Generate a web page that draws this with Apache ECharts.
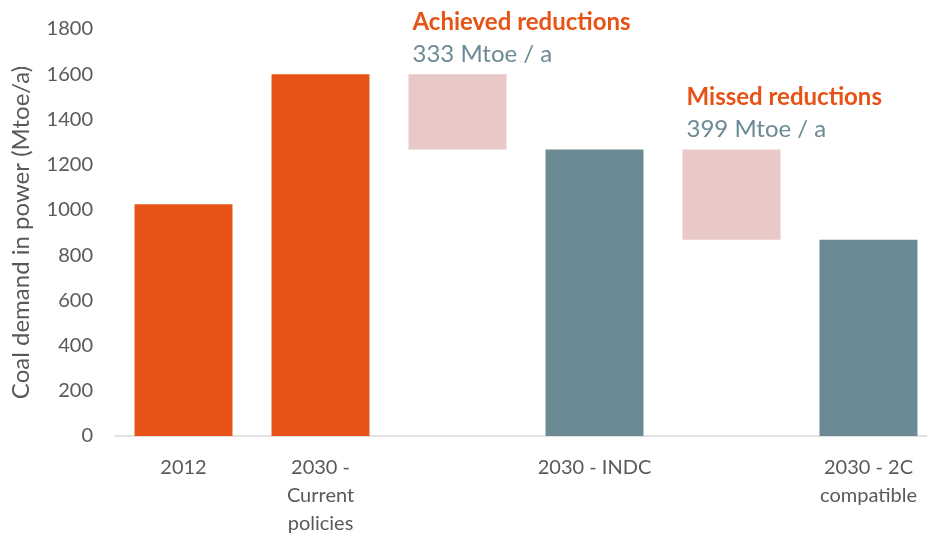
<!DOCTYPE html>
<html>
<head>
<meta charset="utf-8">
<script src="https://cdn.jsdelivr.net/npm/echarts@6/dist/echarts.min.js"></script>
<style>
  html, body { margin: 0; padding: 0; background: #fff; }
  #chart { width: 927px; height: 537px; }
</style>
</head>
<body>
<div id="chart"></div>
<script>
const categories = ['2012', '2030 -\nCurrent\npolicies', '', '2030 - INDC', '', '2030 - 2C\ncompatible']
const totals = [1025, 1600, '-', 1267, '-', 868]
const floatBase = ['-', '-', 1267, '-', 868, '-']
const reductions = ['-', '-', 333, '-', 399, '-']
const reductionTitles = ['', '', 'Achieved reductions', '', 'Missed reductions', '']
const yTicks = [0, 200, 400, 600, 800, 1000, 1200, 1400, 1600, 1800]

const orange = '#E75316'
const teal = '#6C8A94'
const pink = '#E9C9C8'
const font = 'Lato, "Open Sans", sans-serif'

const myChart = echarts.init(document.getElementById('chart'))

myChart.setOption({
  animation: false,
  // plot runs a bit past the right edge, as in the cropped original
  grid: { left: 115, width: 822, top: 29, bottom: 101, outerBoundsMode: 'none' },
  xAxis: {
    type: 'category',
    data: categories,
    axisTick: { show: false },
    axisLine: { lineStyle: { color: '#D9D9D9', width: 1.5 } },
    axisLabel: {
      color: '#595959', fontSize: 20, fontFamily: font,
      lineHeight: 28, margin: 18, interval: 0,
    },
  },
  yAxis: {
    type: 'value',
    min: yTicks[0],
    max: yTicks[yTicks.length - 1],
    interval: 200,
    splitLine: { show: false },
    axisLine: { show: false },
    axisLabel: {
      color: '#595959', fontSize: 20, fontFamily: font, margin: 22,
      formatter: v => String(v),
    },
    name: 'Coal demand in power (Mtoe/a)',
    nameLocation: 'middle',
    nameGap: 82,
    nameTextStyle: { color: '#595959', fontSize: 24, fontFamily: font },
  },
  series: [
    {
      type: 'bar',
      stack: 'w',
      barWidth: '71.5%',
      data: totals.map((v, i) => ({
        value: v,
        itemStyle: { color: i < 2 ? orange : teal },
      })),
    },
    {
      type: 'bar',
      stack: 'w',
      data: floatBase,
      itemStyle: { color: 'transparent' },
    },
    {
      type: 'bar',
      stack: 'w',
      data: reductions,
      itemStyle: { color: pink },
      label: {
        show: true,
        position: [4, -68],
        align: 'left',
        formatter: p => '{t|' + reductionTitles[p.dataIndex] + '}\n{v|' + p.value + ' Mtoe / a}',
        rich: {
          t: { color: orange, fontSize: 24, fontWeight: 'bold', fontFamily: font, lineHeight: 32 },
          v: { color: teal, fontSize: 24, fontFamily: font, lineHeight: 32 },
        },
      },
    },
  ],
})
</script>
</body>
</html>
